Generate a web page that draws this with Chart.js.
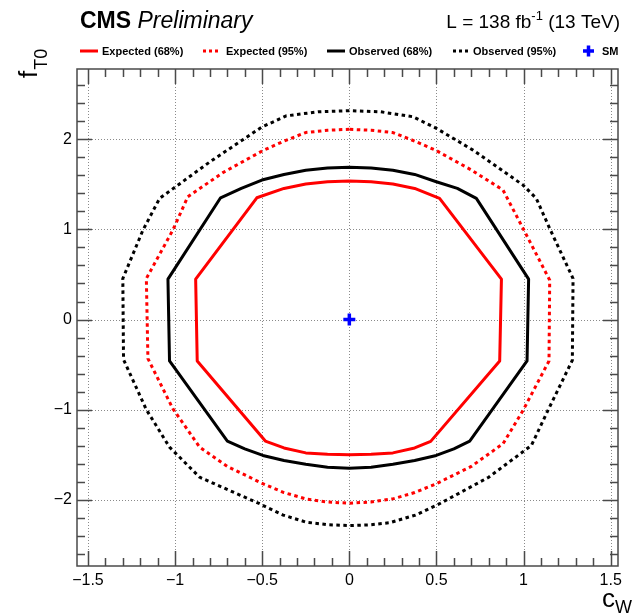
<!DOCTYPE html>
<html>
<head>
<meta charset="utf-8">
<script src="https://cdn.jsdelivr.net/npm/chart.js@4/dist/chart.umd.min.js"></script>
<style>
  html, body { margin: 0; padding: 0; background: #fff; }
  #c { display: block; }
</style>
</head>
<body>
<canvas id="c" width="640" height="614"></canvas>
<script>
// ---- data ----
const xTickValues = [-1.5, -1, -0.5, 0, 0.5, 1, 1.5];
const yTickValues = [-2, -1, 0, 1, 2];
const legendLabels = ["Expected (68%)", "Expected (95%)", "Observed (68%)", "Observed (95%)", "SM"];

const exp68X = [0, -0.125, -0.25, -0.375, -0.531, -0.882, -0.873, -0.482, -0.375, -0.25, -0.125, 0, 0.125, 0.25, 0.375, 0.467, 0.863, 0.873, 0.518, 0.375, 0.25, 0.125, 0];
const exp68Y = [1.537, 1.528, 1.503, 1.455, 1.351, 0.448, -0.46, -1.349, -1.425, -1.48, -1.495, -1.50, -1.495, -1.48, -1.425, -1.352, -0.46, 0.448, 1.344, 1.455, 1.503, 1.528, 1.537];

const obs68X = [0, -0.125, -0.25, -0.375, -0.502, -0.62, -0.739, -1.041, -1.032, -0.700, -0.6, -0.496, -0.375, -0.25, -0.125, 0, 0.125, 0.25, 0.375, 0.499, 0.6, 0.691, 1.02, 1.029, 0.729, 0.62, 0.499, 0.375, 0.25, 0.125, 0];
const obs68Y = [1.689, 1.681, 1.657, 1.61, 1.548, 1.455, 1.351, 0.448, -0.46, -1.349, -1.435, -1.508, -1.565, -1.605, -1.638, -1.649, -1.638, -1.605, -1.565, -1.508, -1.435, -1.349, -0.46, 0.448, 1.344, 1.455, 1.529, 1.61, 1.657, 1.681, 1.689];

const exp95X = [0, -0.125, -0.25, -0.375, -0.496, -0.726, -0.927, -1.013, -1.165, -1.156, -1.013, -0.859, -0.70, -0.496, -0.375, -0.25, -0.125, 0, 0.125, 0.25, 0.375, 0.499, 0.70, 0.882, 0.997, 1.146, 1.150, 0.997, 0.882, 0.70, 0.499, 0.375, 0.25, 0.125, 0];
const exp95Y = [2.111, 2.10, 2.075, 1.98, 1.875, 1.63, 1.362, 0.992, 0.455, -0.433, -0.989, -1.416, -1.63, -1.822, -1.92, -1.99, -2.025, -2.038, -2.025, -1.99, -1.92, -1.822, -1.63, -1.378, -1.008, -0.46, 0.437, 1.011, 1.437, 1.66, 1.875, 1.98, 2.075, 2.10, 2.111];

const obs95X = [0, -0.18, -0.362, -0.505, -0.80, -1.089, -1.185, -1.30, -1.296, -1.165, -1.032, -0.859, -0.515, -0.38, -0.247, -0.12, 0, 0.12, 0.231, 0.38, 0.518, 0.80, 1.045, 1.14, 1.28, 1.284, 1.15, 1.073, 0.997, 0.71, 0.499, 0.365, 0.18, 0];
const obs95Y = [2.318, 2.305, 2.26, 2.133, 1.75, 1.344, 0.99, 0.455, -0.444, -1.0, -1.416, -1.75, -2.044, -2.17, -2.249, -2.278, -2.286, -2.278, -2.255, -2.17, -2.044, -1.75, -1.397, -1.008, -0.452, 0.455, 1.01, 1.344, 1.492, 1.88, 2.122, 2.25, 2.305, 2.318];

const smX = [0];
const smY = [0];

// ---- helpers ----
const pts = (xs, ys) => xs.map((x, i) => ({ x: x, y: ys[i] }));
const fmt = v => (v < 0 ? "\u2212" + String(-v) : String(v));
const FONT = "'Liberation Sans', Arial, Helvetica, sans-serif";

const lineDS = (label, xs, ys, color, dash) => ({
  label: label,
  data: pts(xs, ys),
  showLine: true,
  borderColor: color,
  backgroundColor: color,
  borderWidth: 3,
  borderDash: dash,
  borderCapStyle: 'butt',
  borderJoinStyle: 'round',
  pointRadius: 0,
  pointHoverRadius: 0,
  tension: 0,
  fill: false
});

const decorations = {
  id: 'decorations',
  beforeDatasetsDraw(chart) {
    const { ctx, chartArea: a, scales: { x, y } } = chart;
    ctx.save();
    ctx.strokeStyle = '#8a8a8a';
    ctx.lineWidth = 1;
    ctx.setLineDash([1, 2]);
    xTickValues.forEach(v => {
      const px = Math.round(x.getPixelForValue(v)) + 0.5;
      ctx.beginPath(); ctx.moveTo(px, a.top); ctx.lineTo(px, a.bottom); ctx.stroke();
    });
    yTickValues.forEach(v => {
      const py = Math.round(y.getPixelForValue(v)) + 0.5;
      ctx.beginPath(); ctx.moveTo(a.left, py); ctx.lineTo(a.right, py); ctx.stroke();
    });
    ctx.restore();
  },
  afterDatasetsDraw(chart) {
    const { ctx, chartArea: a, scales: { x, y } } = chart;
    ctx.save();
    ctx.setLineDash([]);
    ctx.strokeStyle = '#4a4a4a';
    ctx.lineWidth = 1.5;
    const major = 15, minor = 8;
    for (let k = -15; k <= 15; k++) {
      const v = k / 10;
      if (v < x.min || v > x.max) continue;
      const len = (k % 5 === 0) ? major : minor;
      const px = Math.round(x.getPixelForValue(v)) + 0.5;
      ctx.beginPath();
      ctx.moveTo(px, a.bottom); ctx.lineTo(px, a.bottom - len);
      ctx.moveTo(px, a.top); ctx.lineTo(px, a.top + len);
      ctx.stroke();
    }
    for (let k = -13; k <= 13; k++) {
      const v = k / 5;
      if (v < y.min || v > y.max) continue;
      const len = (k % 5 === 0) ? major : minor;
      const py = Math.round(y.getPixelForValue(v)) + 0.5;
      ctx.beginPath();
      ctx.moveTo(a.left, py); ctx.lineTo(a.left + len, py);
      ctx.moveTo(a.right, py); ctx.lineTo(a.right - len, py);
      ctx.stroke();
    }
    ctx.strokeRect(a.left, a.top, a.right - a.left, a.bottom - a.top);
    ctx.restore();
  },
  afterDraw(chart) {
    const { ctx } = chart;
    ctx.save();
    ctx.fillStyle = '#000';
    ctx.textBaseline = 'alphabetic';
    ctx.textAlign = 'left';
    ctx.font = "bold 23px " + FONT;
    ctx.fillText("CMS", 80, 28);
    const w = ctx.measureText("CMS ").width;
    ctx.font = "italic 23px " + FONT;
    ctx.fillText("Preliminary", 80 + w, 28);

    const partA = "L = 138 fb", sup = "-1", partB = " (13 TeV)";
    ctx.font = "19px " + FONT;
    const wA = ctx.measureText(partA).width, wB = ctx.measureText(partB).width;
    ctx.font = "13px " + FONT;
    const wS = ctx.measureText(sup).width;
    let sx = 620 - (wA + wS + wB);
    ctx.font = "19px " + FONT;
    ctx.fillText(partA, sx, 28);
    ctx.font = "13px " + FONT;
    ctx.fillText(sup, sx + wA, 20);
    ctx.font = "19px " + FONT;
    ctx.fillText(partB, sx + wA + wS, 28);

    const ly = 51;
    const items = [
      { x0: 80, x1: 98, tx: 102, color: '#ff0000', dash: [] },
      { x0: 203, x1: 221, tx: 226, color: '#ff0000', dash: [3, 3] },
      { x0: 327, x1: 345, tx: 349, color: '#000000', dash: [] },
      { x0: 453, x1: 469, tx: 473, color: '#000000', dash: [3, 3] }
    ];
    ctx.font = "bold 11px " + FONT;
    ctx.textBaseline = 'middle';
    items.forEach((it, i) => {
      ctx.save();
      ctx.strokeStyle = it.color;
      ctx.lineWidth = 3;
      ctx.lineCap = 'butt';
      ctx.setLineDash(it.dash);
      ctx.beginPath(); ctx.moveTo(it.x0, ly); ctx.lineTo(it.x1, ly); ctx.stroke();
      ctx.restore();
      ctx.fillStyle = '#000';
      ctx.fillText(legendLabels[i], it.tx, ly + 0.5);
    });
    ctx.save();
    ctx.strokeStyle = '#0000ff';
    ctx.lineWidth = 3.5;
    ctx.beginPath();
    ctx.moveTo(583, ly); ctx.lineTo(594, ly);
    ctx.moveTo(588.5, ly - 5.5); ctx.lineTo(588.5, ly + 5.5);
    ctx.stroke();
    ctx.restore();
    ctx.fillText(legendLabels[4], 602, ly + 0.5);

    ctx.textBaseline = 'alphabetic';
    ctx.save();
    ctx.translate(37, 78);
    ctx.rotate(-Math.PI / 2);
    ctx.font = "26px " + FONT;
    ctx.fillText("f", 0, 0);
    const fw = ctx.measureText("f").width;
    ctx.font = "18px " + FONT;
    ctx.fillText("T0", fw + 1, 10);
    ctx.restore();
    ctx.font = "26px " + FONT;
    ctx.fillText("c", 602, 607);
    const cw = ctx.measureText("c").width;
    ctx.font = "18px " + FONT;
    ctx.fillText("W", 602 + cw, 613);
    ctx.restore();
  }
};

new Chart(document.getElementById('c'), {
  type: 'scatter',
  data: {
    datasets: [
      lineDS(legendLabels[0], exp68X, exp68Y, '#ff0000', []),
      lineDS(legendLabels[1], exp95X, exp95Y, '#ff0000', [3.5, 3.5]),
      lineDS(legendLabels[2], obs68X, obs68Y, '#000000', []),
      lineDS(legendLabels[3], obs95X, obs95Y, '#000000', [3.5, 3.5]),
      {
        label: legendLabels[4],
        data: pts(smX, smY),
        showLine: false,
        pointStyle: 'cross',
        pointRadius: 6,
        pointHoverRadius: 6,
        borderColor: '#0000ff',
        backgroundColor: '#0000ff',
        pointBorderWidth: 3.5
      }
    ]
  },
  options: {
    responsive: false,
    animation: false,
    devicePixelRatio: 1,
    layout: { padding: { left: 0, right: 22, top: 69, bottom: 0 } },
    plugins: { legend: { display: false }, tooltip: { enabled: false }, title: { display: false } },
    events: [],
    scales: {
      x: {
        type: 'linear',
        min: -1.563,
        max: 1.542,
        grid: { display: false, drawTicks: false },
        border: { display: false },
        afterBuildTicks: s => { s.ticks = xTickValues.map(v => ({ value: v })); },
        afterFit: s => { s.height = 48; },
        ticks: {
          autoSkip: false,
          maxRotation: 0,
          padding: 5,
          color: '#000',
          font: { family: FONT, size: 16 },
          callback: v => fmt(v)
        }
      },
      y: {
        type: 'linear',
        min: -2.735,
        max: 2.78,
        grid: { display: false, drawTicks: false },
        border: { display: false },
        afterBuildTicks: s => { s.ticks = yTickValues.map(v => ({ value: v })); },
        afterFit: s => { s.width = 77; },
        ticks: {
          autoSkip: false,
          padding: 5,
          color: '#000',
          font: { family: FONT, size: 16 },
          callback: v => fmt(v)
        }
      }
    }
  },
  plugins: [decorations]
});
</script>
</body>
</html>
